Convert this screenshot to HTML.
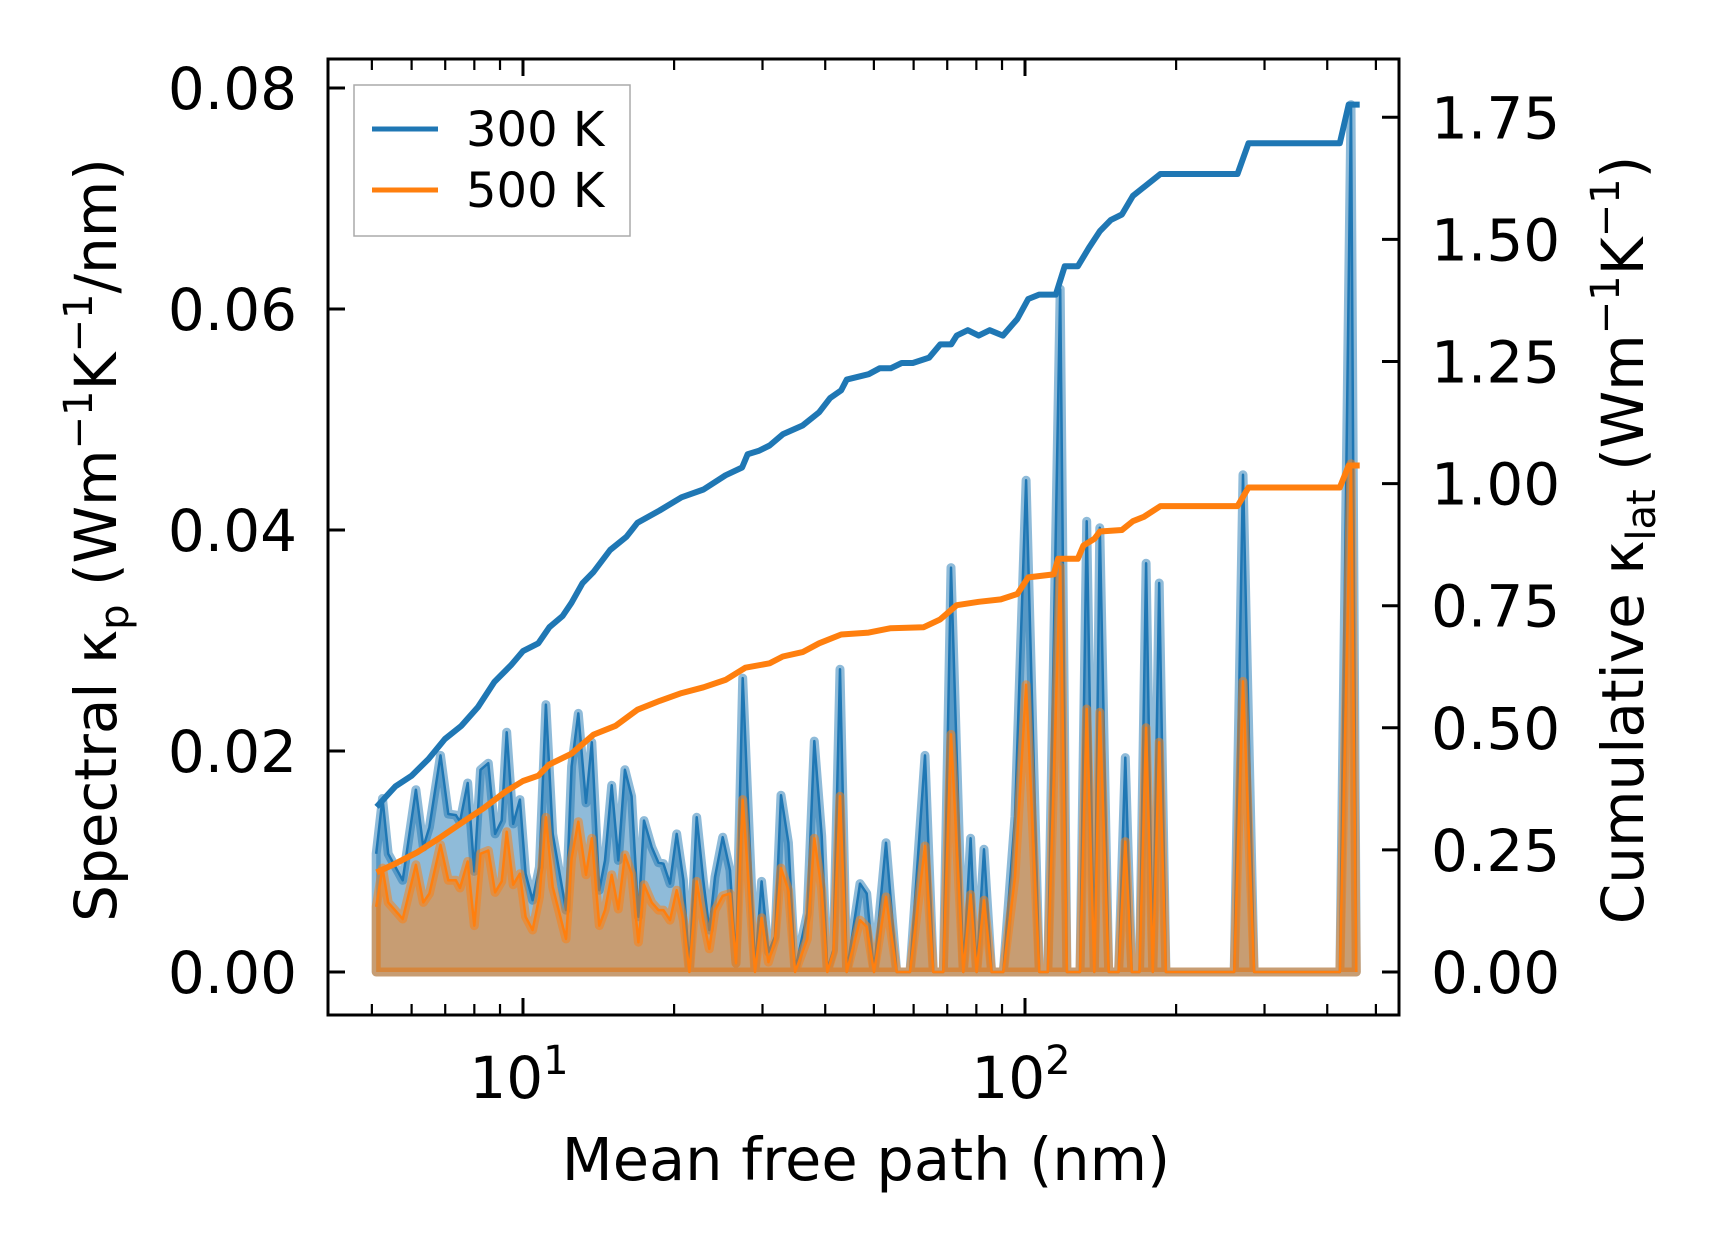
<!DOCTYPE html>
<html><head><meta charset="utf-8"><style>
html,body{margin:0;padding:0;background:#fff;}
svg{display:block;font-family:"DejaVu Sans","Liberation Sans",sans-serif;}
</style></head><body>
<svg id="chart" width="1716" height="1254" viewBox="0 0 1716 1254" xmlns="http://www.w3.org/2000/svg">
<g id="plot"></g>
</svg>
<script>
const specX = [5.10,5.25,5.39,5.76,6.12,6.33,6.51,6.85,7.10,7.35,7.49,7.76,8.00,8.23,8.53,8.80,9.07,9.28,9.56,9.86,10.12,10.45,10.78,11.11,11.46,12.18,12.50,12.89,13.35,13.71,14.19,14.57,15.02,15.48,15.96,16.46,16.98,17.42,18.05,18.61,19.04,19.63,20.24,20.87,21.45,22.18,22.87,23.50,24.13,24.99,
25.85,26.57,27.40,28.98,29.88,30.82,31.77,32.66,33.78,34.83,36.85,38.05,39.35,40.39,41.52,42.81,44.14,46.92,48.38,50.03,52.86,55.51,59.00,63.22,65.68,68.76,71.22,75.34,77.93,80.10,82.85,85.79,90.54,95.52,100.5,106.8,111,117.5,121.2,128.7,132.7,137.4,140.9,146.8,153.6,158.4,163.2,169.1,174.3,179.7,185.1,190.8,261,271.8,286,424,446,457];
const spec300 = [.0107,.0157,.0107,.0083,.0165,.0113,.0131,.0196,.0143,.0142,.0136,.0171,.0091,.0183,.0189,.0125,.0137,.0217,.0134,.0156,.0089,.0065,.0095,.0242,.0125,.0056,.0186,.0234,.0153,.0208,.0074,.0101,.0169,.0101,.0183,.0159,.0050,.0137,.0113,.0099,.0098,.0080,.0125,.0083,.0002,.0140,.0083,.0038,.0086,.0122,
.0092,.0008,.0266,.0002,.0082,.0018,.0032,.0160,.0117,.0002,.0053,.0209,.0123,.0002,.0020,.0274,0,.0080,.0071,0,.0117,0,0,.0196,0,0,.0366,0,.0121,0,.0111,0,0,.0141,.0445,0,0,.0618,0,0,.0408,0,.0402,0,0,.0194,0,0,.0370,0,.0352,0,0,.0450,0,0,.0785,0];
const spec500 = [.0059,.0094,.0063,.0048,.0097,.0063,.0071,.0115,.0083,.0083,.0076,.0100,.0042,.0107,.0110,.0072,.0082,.0127,.0079,.0089,.0050,.0038,.0068,.0140,.0077,.0030,.0103,.0136,.0088,.0121,.0042,.0056,.0088,.0057,.0106,.0089,.0027,.0079,.0063,.0056,.0056,.0047,.0074,.0047,0,.0082,.0047,.0021,.0056,.0069,
.0071,.0008,.0156,0,.0049,.0009,.0029,.0094,.0074,0,.0030,.0121,.0074,0,.0018,.0159,0,.0047,.0041,0,.0068,0,0,.0114,0,0,.0215,0,.0070,0,.0065,0,0,.0086,.0260,0,0,.0367,0,0,.0238,0,.0235,0,0,.0118,0,0,.0221,0,.0208,0,0,.0263,0,0,.0460,0];
const cumX300 = [5.11,5.57,6.00,6.48,6.99,7.54,8.13,8.77,9.46,10,10.73,11.29,11.99,12.49,13.14,13.82,14.91,16.07,16.91,18.71,20.69,22.89,25.32,27.32,28.02,29.47,30.99,32.93,36.06,38.90,40.91,43.04,44.14,48.82,51.34,54.02,56.81,59.76,64.45,67.78,71.30,73.11,76.91,80.88,85.07,90.38,96.52,101.5,106.8,115.2,120.0,127.4,134.1,141.0,148.3,156.0,164.0,172.5,186.1,265.0,278.7,423.8,441.3,464.2];
const cum300 = [.338,.380,.402,.436,.477,.504,.542,.594,.628,.657,.673,.706,.729,.756,.796,.819,.864,.891,.920,.945,.972,.988,1.017,1.033,1.060,1.067,1.078,1.101,1.119,1.146,1.175,1.191,1.213,1.224,1.236,1.236,1.247,1.247,1.258,1.285,1.285,1.303,1.314,1.303,1.314,1.303,1.337,1.378,1.387,1.387,1.445,1.445,1.483,1.517,1.540,1.551,1.589,1.607,1.634,1.634,1.697,1.697,1.776,1.776];
const cumX500 = [5.11,5.57,6.16,6.81,7.54,8.34,9.22,10,10.73,11.29,12.49,13.82,15.29,16.91,18.71,20.69,22.89,25.32,27.73,30.99,32.93,36.06,38.90,43.04,48.82,54.02,62.84,67.78,73.11,80.88,89.49,96.52,101.5,114.0,116.4,127.4,130.7,137.5,141.0,156.0,164.0,172.5,186.1,265.0,278.7,423.8,441.3,464.2];
const cum500 = [.204,.222,.245,.274,.305,.335,.369,.391,.402,.425,.447,.486,.504,.537,.555,.571,.583,.598,.623,.632,.646,.655,.673,.691,.695,.704,.706,.722,.751,.758,.763,.774,.808,.814,.846,.846,.873,.887,.902,.905,.923,.932,.954,.954,.992,.992,1.037,1.037];
const yTicksL = [0,0.02,0.04,0.06,0.08];
const yTickLabelsL = ["0.00","0.02","0.04","0.06","0.08"];
const yTicksR = [0,0.25,0.5,0.75,1.0,1.25,1.5,1.75];
const yTickLabelsR = ["0.00","0.25","0.50","0.75","1.00","1.25","1.50","1.75"];
const xMajor = [10,100];
const xMajorExp = ["1","2"];
const xMinor = [5,6,7,8,9,20,30,40,50,60,70,80,90,200,300,400,500];

const L=328,R=1399,T=59,B=1015;
const lxMin=0.6116,lxMax=2.745;
const X = v => L + (Math.log10(v)-lxMin)/(lxMax-lxMin)*(R-L);
const YL = v => 972 - v/0.02*221;
const YR = v => 972 - v*488.4;
const NS="http://www.w3.org/2000/svg";
const plot=document.getElementById('plot');
function mk(tag,attrs,parent){const e=document.createElementNS(NS,tag);for(const k in attrs)e.setAttribute(k,attrs[k]);(parent||plot).appendChild(e);return e;}

const clip=mk('clipPath',{id:'axclip'});mk('rect',{x:L,y:T,width:R-L,height:B-T},clip);
const g=mk('g',{'clip-path':'url(#axclip)'});



function spectral(vals,color,name){
  const pts=specX.map((x,i)=>X(x).toFixed(1)+','+YL(vals[i]).toFixed(1));
  const poly=X(specX[0]).toFixed(1)+','+YL(0)+' '+pts.join(' ')+' '+X(specX[specX.length-1]).toFixed(1)+','+YL(0);
  const f=mk('polygon',{points:poly,fill:color,'fill-opacity':0.5,stroke:color,'stroke-opacity':0.5,'stroke-width':9,'stroke-linejoin':'round'},g);
  
  
  const l=mk('polyline',{points:pts.join(' '),fill:'none',stroke:color,'stroke-width':2.5,'stroke-linejoin':'round'},g);
  
  
}
spectral(spec300,'#1f77b4','spectral-300k');
spectral(spec500,'#ff7f0e','spectral-500k');
function cum(xs,vals,color,name){
  const pts=xs.map((x,i)=>X(x).toFixed(1)+','+YR(vals[i]).toFixed(1)).join(' ');
  const l=mk('polyline',{points:pts,fill:'none',stroke:color,'stroke-width':6,'stroke-linejoin':'round'},g);
  
  
}
cum(cumX300,cum300,'#1f77b4','cumulative-300k');
cum(cumX500,cum500,'#ff7f0e','cumulative-500k');

const sp=mk('rect',{x:L,y:T,width:R-L,height:B-T,fill:'none',stroke:'#000','stroke-width':3});



yTicksL.forEach((v,i)=>{
  const y=YL(v);
  const t=mk('line',{x1:L,x2:L+17,y1:y,y2:y,stroke:'#000','stroke-width':3});
  
  
  const tx=mk('text',{x:L-31,y:y+21,'font-size':58,'text-anchor':'end'});
  tx.textContent=yTickLabelsL[i];
  
  
});
yTicksR.forEach((v,i)=>{
  const y=YR(v);
  const t=mk('line',{x1:R-17,x2:R,y1:y,y2:y,stroke:'#000','stroke-width':3});
  
  
  const tx=mk('text',{x:R+32,y:y+21,'font-size':58,'text-anchor':'start'});
  tx.textContent=yTickLabelsR[i];
  
  
});
xMajor.forEach((v,i)=>{
  const x=X(v);
  [[B,B-17],[T,T+17]].forEach(([a,b])=>{
    const t=mk('line',{x1:x,x2:x,y1:a,y2:b,stroke:'#000','stroke-width':3});
    
    
  });
  const tx=mk('text',{x:x-4,y:1098,'font-size':58,'text-anchor':'middle'});
  
  
  const a=mk('tspan',{},tx);a.textContent='10';
  const b=mk('tspan',{'font-size':40,dy:-24},tx);b.textContent=xMajorExp[i];
});
xMinor.forEach(v=>{
  const x=X(v); if(x<L||x>R)return;
  [[B,B-11],[T,T+11]].forEach(([a,b])=>{
    const t=mk('line',{x1:x,x2:x,y1:a,y2:b,stroke:'#000','stroke-width':2.2});
    
    
  });
});
</script>
<svg style="position:absolute;left:0;top:0" width="1716" height="1254" xmlns="http://www.w3.org/2000/svg" font-family="DejaVu Sans, Liberation Sans, sans-serif">
<text x="866" y="1180" font-size="59" text-anchor="middle">Mean free path (nm)</text>
<text transform="translate(116,540) rotate(-90)" font-size="58" text-anchor="middle">Spectral κ<tspan font-size="40" dy="12">p</tspan><tspan dy="-12"> (Wm</tspan><tspan font-size="40" dy="-24">−1</tspan><tspan dy="24">K</tspan><tspan font-size="40" dy="-24">−1</tspan><tspan dy="24">/nm)</tspan></text>
<text transform="translate(1643,540) rotate(-90)" font-size="58" text-anchor="middle">Cumulative κ<tspan font-size="40" dy="12">lat</tspan><tspan dy="-12"> (Wm</tspan><tspan font-size="40" dy="-24">−1</tspan><tspan dy="24">K</tspan><tspan font-size="40" dy="-24">−1</tspan><tspan dy="24">)</tspan></text>
<g>
<rect x="354" y="85" width="276" height="151" fill="#fff" fill-opacity="0.8" stroke="#aaa" stroke-width="1.5"/>
<line x1="372" y1="129" x2="438" y2="129" stroke="#1f77b4" stroke-width="5"/>
<text x="466" y="146" font-size="48">300 K</text>
<line x1="372" y1="190" x2="438" y2="190" stroke="#ff7f0e" stroke-width="5"/>
<text x="466" y="207" font-size="48">500 K</text>
</g>
</svg>
</body></html>
